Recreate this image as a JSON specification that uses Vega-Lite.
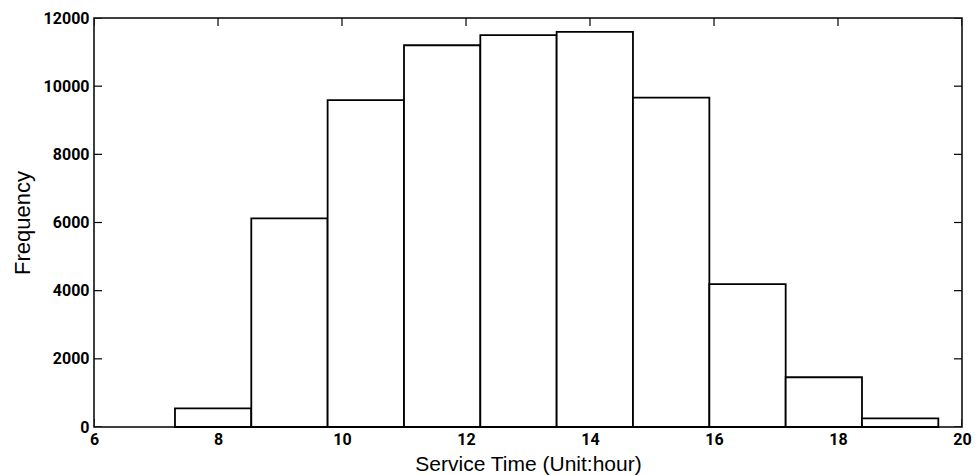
{
  "$schema": "https://vega.github.io/schema/vega-lite/v6.json",
  "width": 868,
  "height": 409,
  "autosize": "none",
  "padding": {"left": 94, "top": 18, "right": 15, "bottom": 48},
  "background": "white",
  "config": {
    "view": {"stroke": "black", "strokeWidth": 1.5}
  },
  "datasets": {
    "bins": [
      {"start": 7.306, "end": 8.537, "count": 549},
      {"start": 8.537, "end": 9.768, "count": 6120},
      {"start": 9.768, "end": 11.0, "count": 9590},
      {"start": 11.0, "end": 12.231, "count": 11200},
      {"start": 12.231, "end": 13.462, "count": 11500},
      {"start": 13.462, "end": 14.693, "count": 11590},
      {"start": 14.693, "end": 15.925, "count": 9665},
      {"start": 15.925, "end": 17.156, "count": 4190},
      {"start": 17.156, "end": 18.387, "count": 1459},
      {"start": 18.387, "end": 19.618, "count": 255}
    ],
    "xticks": [{"v": 6}, {"v": 8}, {"v": 10}, {"v": 12}, {"v": 14}, {"v": 16}, {"v": 18}, {"v": 20}],
    "yticks": [{"v": 0}, {"v": 2000}, {"v": 4000}, {"v": 6000}, {"v": 8000}, {"v": 10000}, {"v": 12000}]
  },
  "layer": [
    {
      "data": {"name": "xticks"},
      "mark": {"type": "tick", "orient": "vertical", "size": 16, "thickness": 1.2, "color": "black", "opacity": 1, "clip": true},
      "encoding": {
        "x": {
          "field": "v", "type": "quantitative",
          "scale": {"domain": [6, 20], "nice": false, "zero": false},
          "axis": {
            "orient": "bottom", "values": [6, 8, 10, 12, 14, 16, 18, 20], "format": "d",
            "grid": false, "domain": false, "ticks": false,
            "labelPadding": 4, "labelFlush": false,
            "labelFont": "Roboto", "labelFontWeight": "bold", "labelFontSize": 16, "labelColor": "#000000",
            "title": "Service Time (Unit:hour)", "titlePadding": 6,
            "titleFont": "Liberation Sans", "titleFontWeight": "normal", "titleFontSize": 21, "titleColor": "#000000"
          }
        },
        "y": {
          "datum": 0, "type": "quantitative",
          "scale": {"domain": [0, 12000], "nice": false},
          "axis": {
            "orient": "left", "values": [0, 2000, 4000, 6000, 8000, 10000, 12000], "format": "d",
            "grid": false, "domain": false, "ticks": false,
            "labelPadding": 5, "labelFlush": false,
            "labelFont": "Roboto", "labelFontWeight": "bold", "labelFontSize": 16, "labelColor": "#000000",
            "title": "Frequency", "titlePadding": 9,
            "titleFont": "Liberation Sans", "titleFontWeight": "normal", "titleFontSize": 22, "titleColor": "#000000"
          }
        }
      }
    },
    {
      "data": {"name": "xticks"},
      "mark": {"type": "tick", "orient": "vertical", "size": 16, "thickness": 1.2, "color": "black", "opacity": 1, "clip": true},
      "encoding": {
        "x": {"field": "v", "type": "quantitative"},
        "y": {"datum": 12000, "type": "quantitative"}
      }
    },
    {
      "data": {"name": "yticks"},
      "mark": {"type": "tick", "orient": "horizontal", "size": 16, "thickness": 1.2, "color": "black", "opacity": 1, "clip": true},
      "encoding": {
        "y": {"field": "v", "type": "quantitative"},
        "x": {"datum": 6, "type": "quantitative"}
      }
    },
    {
      "data": {"name": "yticks"},
      "mark": {"type": "tick", "orient": "horizontal", "size": 16, "thickness": 1.2, "color": "black", "opacity": 1, "clip": true},
      "encoding": {
        "y": {"field": "v", "type": "quantitative"},
        "x": {"datum": 20, "type": "quantitative"}
      }
    },
    {
      "data": {"name": "bins"},
      "mark": {"type": "rect", "fill": "white", "stroke": "black", "strokeWidth": 1.8},
      "encoding": {
        "x": {"field": "start", "type": "quantitative"},
        "x2": {"field": "end"},
        "y": {"field": "count", "type": "quantitative"},
        "y2": {"datum": 0}
      }
    }
  ]
}
